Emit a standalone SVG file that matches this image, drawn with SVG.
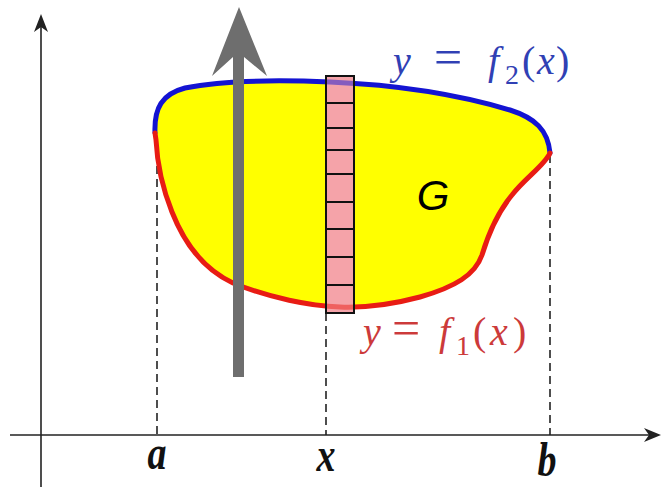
<svg xmlns="http://www.w3.org/2000/svg" width="672" height="487" viewBox="0 0 672 487">
<style>
.axis{stroke:#222;stroke-width:1.6;fill:none}
.dash{stroke:#222;stroke-width:1.6;stroke-dasharray:8 5;fill:none}
.lbl{font-family:"Liberation Serif",serif;font-weight:bold;font-style:italic;font-size:38px;fill:#111}
.fn{font-family:"Liberation Serif",serif;font-size:40px}
.it{font-style:italic}
.cell{stroke:#111;stroke-width:2}
.blue{fill:none;stroke:#1414d2;stroke-width:5;stroke-linecap:round}
.red{fill:none;stroke:#e81c14;stroke-width:5;stroke-linecap:round}
</style>
<rect width="672" height="487" fill="#fff"/>
<g id="axes">
<line class="axis" x1="10" y1="435" x2="655" y2="435"/>
<polygon points="661,435 644,428 649,435 644,442" fill="#222"/>
<line class="axis" x1="41" y1="487" x2="41" y2="22"/>
<polygon points="41,14 34,32 41,27 48,32" fill="#222"/>
</g>
<g id="connectors">
<line class="dash" x1="157" y1="140" x2="157" y2="435"/>
<line class="dash" x1="326" y1="313" x2="326" y2="435"/>
<line class="dash" x1="550" y1="155" x2="550" y2="435"/>
</g>
<g id="region">
<path d="M155,133 C154,108 162,94 185,88 C215,82 260,79 330,82 C400,85 460,95 510,110 C535,118 548,130 550,153 C545,165 525,178 512,195 C498,212 488,235 482,255 C475,275 455,287 420,297 C390,305 365,308 340,307 C310,306 270,298 233,283 C205,270 185,245 172,212 C162,187 157,160 156,140 Z" fill="#ffff00" stroke="none"/>
<rect x="326" y="76" width="28" height="237" fill="#f5a3a9"/>
<path class="blue" d="M155,133 C154,108 162,94 185,88 C215,82 260,79 330,82 C400,85 460,95 510,110 C535,118 548,130 550,153"/>
<path class="red" d="M550,153 C545,165 525,178 512,195 C498,212 488,235 482,255 C475,275 455,287 420,297 C390,305 365,308 340,307 C310,306 270,298 233,283 C205,270 185,245 172,212 C162,187 157,160 156,140 L155,133"/>
</g>
<g id="strip">
<rect x="326" y="76" width="28" height="237" fill="#f5a3a9" fill-opacity="0.5" stroke="#111" stroke-width="2"/>
<line class="cell" x1="326" y1="103" x2="354" y2="103"/>
<line class="cell" x1="326" y1="128" x2="354" y2="128"/>
<line class="cell" x1="326" y1="150" x2="354" y2="150"/>
<line class="cell" x1="326" y1="174" x2="354" y2="174"/>
<line class="cell" x1="326" y1="202" x2="354" y2="202"/>
<line class="cell" x1="326" y1="229" x2="354" y2="229"/>
<line class="cell" x1="326" y1="257" x2="354" y2="257"/>
<line class="cell" x1="326" y1="285" x2="354" y2="285"/>
</g>
<g id="arrow">
<polygon points="239,7 267,76 244,57 244,377 233,377 233,57 212,76" fill="#6e6e6e"/>
</g>
<g id="label-G">
<text x="433" y="210" text-anchor="middle" font-family="Liberation Sans, sans-serif" font-style="italic" font-size="42" fill="#000">G</text>
</g>
<g id="label-f2">
<text class="fn" fill="#3040b4" y="74"><tspan class="it" x="393">y</tspan><tspan x="434" font-size="50">=</tspan><tspan class="it" x="488">f</tspan><tspan x="505" y="84" font-size="28">2</tspan><tspan x="522" y="74">(</tspan><tspan class="it" x="537">x</tspan><tspan x="556">)</tspan></text>
</g>
<g id="label-f1">
<text class="fn" fill="#cc3a3a" y="345"><tspan class="it" x="363">y</tspan><tspan x="392" font-size="50">=</tspan><tspan class="it" x="439">f</tspan><tspan x="456" y="355" font-size="28">1</tspan><tspan x="473" y="345">(</tspan><tspan class="it" x="490">x</tspan><tspan x="513">)</tspan></text>
</g>
<g id="ticks">
<text class="lbl" text-anchor="middle" transform="translate(157,469) scale(1,1.25)">a</text>
<text class="lbl" text-anchor="middle" transform="translate(326,471) scale(1,1.25)">x</text>
<text class="lbl" text-anchor="middle" transform="translate(547,476) scale(1,1.25)">b</text>
</g>
</svg>
